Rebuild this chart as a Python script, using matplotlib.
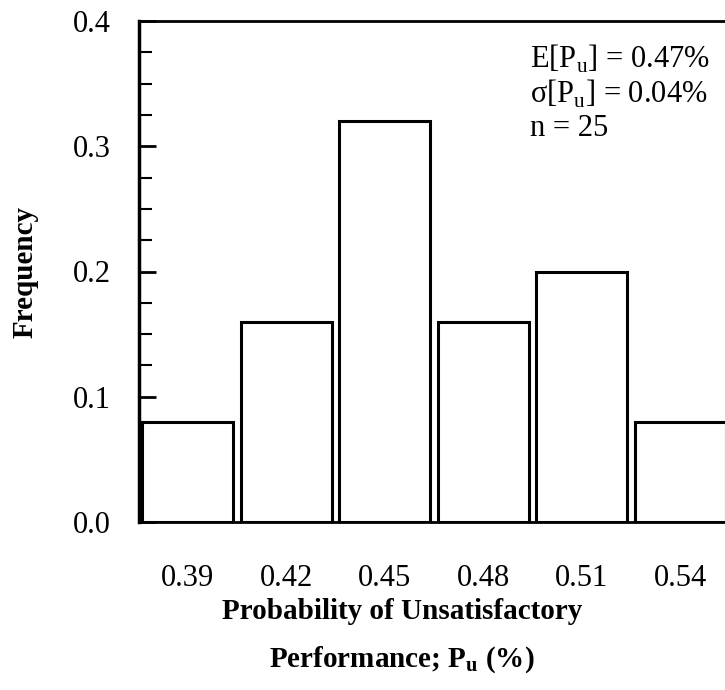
import matplotlib
matplotlib.use("Agg")
import matplotlib.pyplot as plt
from matplotlib.ticker import MultipleLocator

plt.rcParams['font.family'] = ['Liberation Serif', 'DejaVu Serif']
plt.rcParams['mathtext.fontset'] = 'custom'
plt.rcParams['mathtext.rm'] = 'Liberation Serif'
plt.rcParams['mathtext.bf'] = 'Liberation Serif:bold'

categories = [0.39, 0.42, 0.45, 0.48, 0.51, 0.54]
tick_labels = ["0.39", "0.42", "0.45", "0.48", "0.51", "0.54"]
frequency = [0.08, 0.16, 0.32, 0.16, 0.20, 0.08]
y_ticks = [0.0, 0.1, 0.2, 0.3, 0.4]
y_tick_labels = ["0.0", "0.1", "0.2", "0.3", "0.4"]
stats_text = ["E[P$_\\mathregular{u}$] = 0.47%", "σ[P$_\\mathregular{u}$] = 0.04%", "n = 25"]

fig = plt.figure(figsize=(7.25, 6.9), dpi=100)
ax = fig.add_axes([139/725, 1-522/690, 1-139/725, (522-21)/690])

ax.bar(categories, frequency, width=0.0277, color='white', edgecolor='black', linewidth=2.2, zorder=3)

ax.set_xlim(0.37524, 0.55354)
ax.set_ylim(0, 0.4)

ax.spines['right'].set_visible(False)
ax.spines['left'].set_linewidth(2.5)
ax.spines['top'].set_linewidth(2)
ax.spines['bottom'].set_linewidth(2)

ax.set_xticks(categories)
ax.set_xticklabels(tick_labels, fontsize=22)
ax.tick_params(axis='x', length=0, pad=30)

ax.set_yticks(y_ticks)
ax.set_yticklabels(y_tick_labels, fontsize=22)
ax.yaxis.set_minor_locator(MultipleLocator(0.025))
ax.tick_params(axis='y', which='major', direction='in', length=12, width=2, pad=20)
ax.tick_params(axis='y', which='minor', direction='in', length=9, width=1.5)

ax.set_ylabel("Frequency", fontsize=21, fontweight='bold', va='center')
ax.yaxis.set_label_coords(-(139-25)/586, 0.5)
ax.set_xlabel("Probability of Unsatisfactory\nPerformance; P$_\\mathbf{u}$ (%)",
              fontsize=21, fontweight='bold', linespacing=1.85)
ax.xaxis.set_label_coords((402-139)/586, -(598-522)/501)
ax.xaxis.label.set_va('top')

for i, t in enumerate(stats_text):
    ax.text(0.667, 0.924 - i*0.069, t, transform=ax.transAxes, fontsize=22,
            ha='left', va='center')

fig.savefig("out.png", dpi=100)
